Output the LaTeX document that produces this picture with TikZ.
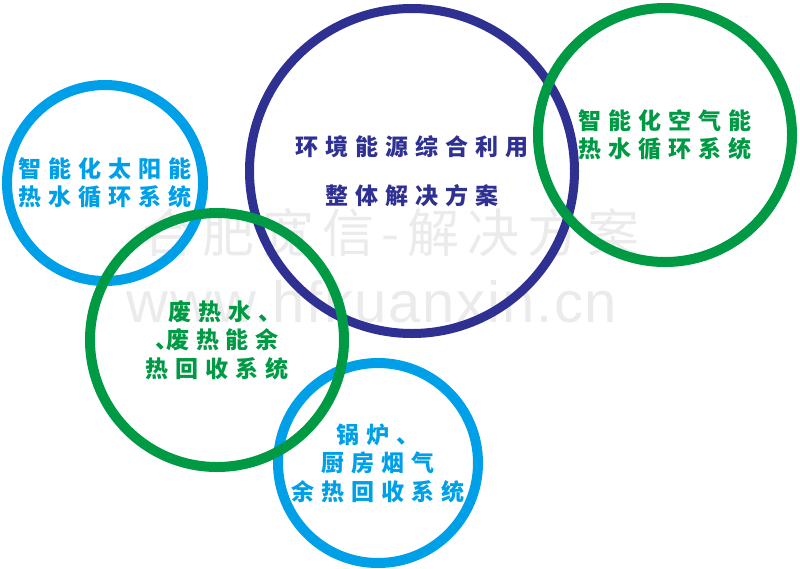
\documentclass[tikz,border=0pt]{standalone}
\usepackage{fontspec}
\newfontfamily\cjk[LetterSpace=30]{Noto Sans CJK SC}
\newfontfamily\markcjk[LetterSpace=15]{Noto Sans CJK SC}
\newfontfamily\marklat[LetterSpace=3]{Liberation Sans}
\definecolor{skyblue}{RGB}{0,160,233}
\definecolor{navy}{RGB}{46,49,146}
\definecolor{leaf}{RGB}{0,153,68}
\tikzset{ring/.style={circle, draw=#1, text=#1, line width=10pt, inner sep=0pt, align=center,
  font=\cjk\bfseries\fontsize{23}{28.5}\selectfont}}

\begin{document}
\begin{tikzpicture}[x=1pt,y=-1pt]
\useasboundingbox (0,0) rectangle (800,568);
% watermark
\node[text=black!8, font=\markcjk\fontsize{52}{52}\selectfont] (mark) at (391,233) {合肥宽信-解决方案};
\node[text=black!8, font=\marklat\fontsize{58}{58}\selectfont, anchor=base] (site) at (372,322) {www.hfkuanxin.cn};
\node[ring=skyblue, minimum size=196pt] (solar) at (105,183) {智能化太阳能\\热水循环系统};
\node[ring=skyblue, minimum size=200pt] (boiler) at (378,463) {锅炉、\\厨房烟气\\余热回收系统};
\node[ring=navy, line width=9pt, minimum size=325pt] (whole) at (412,171) {环境能源综合利用\\[20.5pt]整体解决方案};
\node[ring=leaf, minimum size=254pt] (air) at (665,135) {智能化空气能\\热水循环系统};
\node[ring=leaf, minimum size=254pt] (waste) at (217,340) {\kern16pt废热水、\\、\kern-12pt废热能余\\热回收系统};
\end{tikzpicture}
\end{document}
